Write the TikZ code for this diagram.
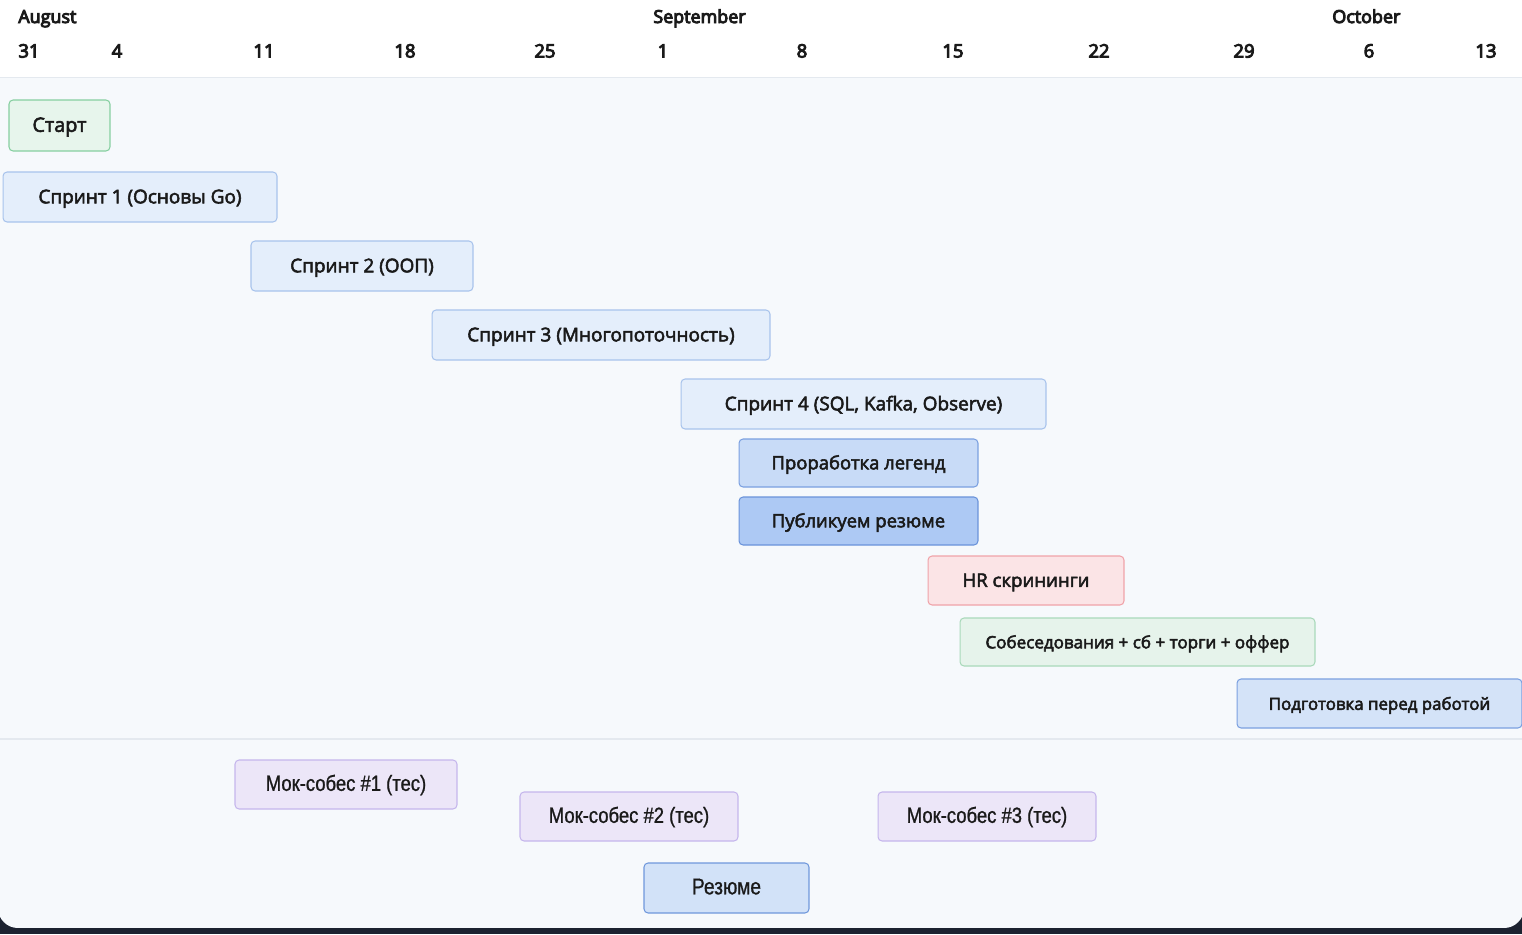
\documentclass[tikz,border=0pt]{standalone}
\usepackage{fontspec}
\setmainfont{Open Sans}
\newfontfamily\narrowfont[FakeStretch=0.84]{Liberation Sans}
\newcommand\thicktext[1]{\special{pdf:code 2 Tr #1 w}}
\definecolor{night}{HTML}{1C2230}
\definecolor{bodybg}{HTML}{F6F9FC}
\definecolor{gridgray}{HTML}{E4E9EF}
\definecolor{inkblack}{HTML}{1A1A1A}
\begin{document}
\begin{tikzpicture}[x=0.02cm,y=-0.02cm,font=\fontsize{10.8}{12}\selectfont,
            bar/.style={draw,rounded corners=2.3pt,line width=0.6pt,inner sep=0pt,
                minimum width=#1,minimum height=1cm,text=inkblack,text height=0.72em,text depth=0pt,
                execute at begin node=\thicktext{0.3}},
            startbar/.style={fill={rgb,255:red,231;green,245;blue,236},draw={rgb,255:red,134;green,207;blue,160}},
            sprintbar/.style={fill={rgb,255:red,228;green,238;blue,251},draw={rgb,255:red,168;green,195;blue,236}},
            legendbar/.style={fill={rgb,255:red,200;green,219;blue,247},draw={rgb,255:red,123;green,160;blue,224}},
            publishbar/.style={fill={rgb,255:red,173;green,201;blue,244},draw={rgb,255:red,106;green,147;blue,218}},
            hrbar/.style={fill={rgb,255:red,251;green,228;blue,230},draw={rgb,255:red,240;green,163;blue,169}},
            offerbar/.style={fill={rgb,255:red,230;green,243;blue,235},draw={rgb,255:red,169;green,217;blue,186}},
            prepbar/.style={fill={rgb,255:red,212;green,227;blue,248},draw={rgb,255:red,123;green,160;blue,224}},
            mockbar/.style={fill={rgb,255:red,236;green,230;blue,248},draw={rgb,255:red,197;green,182;blue,236},
                font=\narrowfont\fontsize{12.5}{14}\selectfont,execute at begin node=\thicktext{0.12}},
            resumebar/.style={fill={rgb,255:red,210;green,226;blue,248},draw={rgb,255:red,111;green,152;blue,220},
                font=\narrowfont\fontsize{13}{15}\selectfont,execute at begin node=\thicktext{0.12}},
            month/.style={anchor=base west,inner sep=0pt,text=inkblack,font=\fontsize{10.2}{12}\selectfont,
                execute at begin node=\thicktext{0.55}},
            day/.style={anchor=base,inner sep=0pt,text=inkblack,font=\fontsize{10.5}{12}\selectfont,
                execute at begin node=\thicktext{0.55}}]
            \useasboundingbox (0,0) rectangle (1522,934);
            \fill[night] (0,0) rectangle (1522,934);
            \begin{scope}
            \clip[rounded corners=0.4cm] (-2,-30) rectangle (1524,928);
            \fill[white] (-2,-30) rectangle (1524,77);
            \fill[bodybg] (-2,77) rectangle (1524,928);
            \end{scope}
            \draw[gridgray,line width=0.6pt] (0,77.5)--(1522,77.5);
            \draw[gridgray,line width=0.6pt] (0,739)--(1522,739);
            \node[month] (aug) at (18,23) {August};
            \node[month] (sep) at (653,23) {September};
            \node[month] (oct) at (1332,23) {October};
            \foreach \x/\d in {29/31,117/4,264/11,405/18,545/25,663/1,802/8,953/15,1099/22,1244/29,1369/6,1486/13}
            \node[day] (d\d) at (\x,57.5) {\d};
            \node[bar=2.02cm,startbar,minimum height=1.02cm,font=\fontsize{11.3}{13}\selectfont] (start) at (59.5,125.5) {Старт};
            \node[bar=5.48cm,sprintbar] (sprint1) at (140,197) {Спринт 1 (Основы Go)};
            \node[bar=4.44cm,sprintbar] (sprint2) at (362,266) {Спринт 2 (ООП)};
            \node[bar=6.76cm,sprintbar] (sprint3) at (601,335) {Спринт 3 (Многопоточность)};
            \node[bar=7.30cm,sprintbar] (sprint4) at (863.5,404) {Спринт 4 (SQL, Kafka, Observe)};
            \node[bar=4.78cm,legendbar,minimum height=0.96cm,font=\fontsize{10.5}{12}\selectfont] (legend) at (858.5,463) {Проработка легенд};
            \node[bar=4.78cm,publishbar,minimum height=0.96cm,font=\fontsize{10.5}{12}\selectfont] (publish) at (858.5,521) {Публикуем резюме};
            \node[bar=3.92cm,hrbar,minimum height=0.98cm,font=\fontsize{10.6}{12}\selectfont] (hr) at (1026,580.5) {HR скрининги};
            \node[bar=7.10cm,offerbar,minimum height=0.96cm,font=\fontsize{9.7}{11}\selectfont] (offer) at (1137.5,642) {Собеседования + сб + торги + оффер};
            \node[bar=5.70cm,prepbar,minimum height=0.98cm,font=\fontsize{9.6}{11}\selectfont] (prep) at (1379.5,703.5) {Подготовка перед работой};
            \node[bar=4.44cm,mockbar,minimum height=0.98cm] (mock1) at (346,784.5) {Мок-собес \#1 (тес)};
            \node[bar=4.36cm,mockbar,minimum height=0.98cm] (mock2) at (629,816.5) {Мок-собес \#2 (тес)};
            \node[bar=4.36cm,mockbar,minimum height=0.98cm] (mock3) at (987,816.5) {Мок-собес \#3 (тес)};
            \node[bar=3.30cm,resumebar] (resume) at (726.5,888) {Резюме};
        \end{tikzpicture}
\end{document}
